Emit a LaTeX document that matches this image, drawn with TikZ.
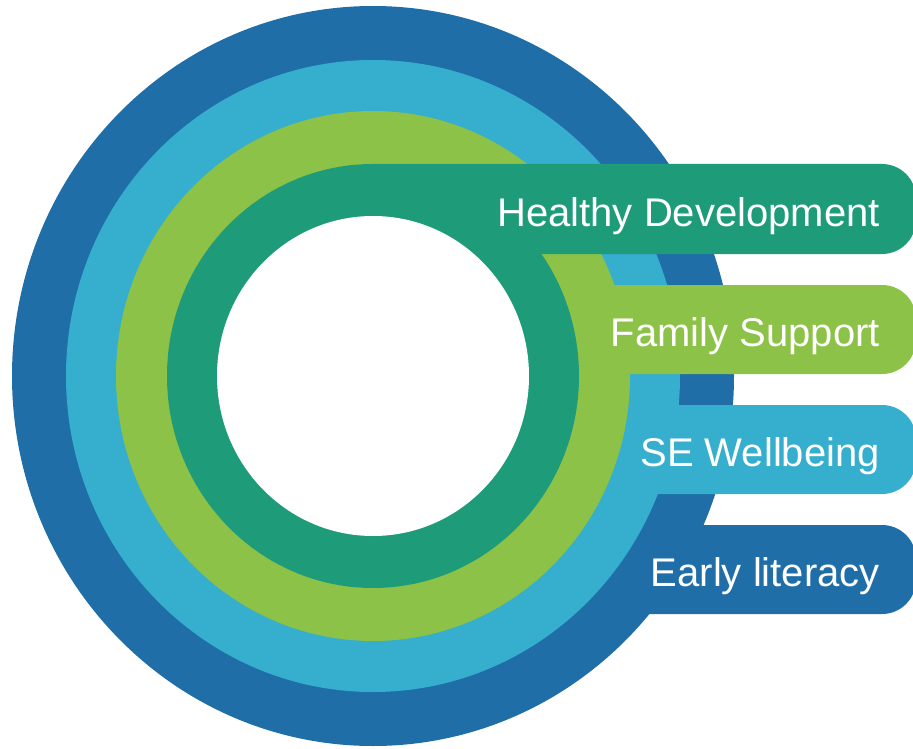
\documentclass[tikz,border=0pt]{standalone}
\usepackage{fontspec}
\setmainfont{Liberation Sans}
\definecolor{dblue}{RGB}{31,110,168}
\definecolor{lblue}{RGB}{54,174,206}
\definecolor{lgreen}{RGB}{139,194,71}
\definecolor{teal}{RGB}{30,155,120}
\begin{document}
\begin{tikzpicture}[x=1pt,y=-1pt,
  band/.style={fill=#1, rounded corners=34pt},
  ring/.style={fill=#1},
  lbl/.style={text=white, anchor=base east, inner sep=0pt, font=\fontsize{40}{48}\selectfont}]
\useasboundingbox (0,0) rectangle (913,749);
\coordinate (c) at (373,376);
% dark blue
\fill[ring=dblue] (c) ellipse [x radius=361, y radius=370];
\path[band=dblue] (373,525) -- (916,525) -- (916,614) -- (373,614) [sharp corners] -- cycle;
% light blue
\fill[ring=lblue] (c) ellipse [x radius=307, y radius=316];
\path[band=lblue] (373,405) -- (916,405) -- (916,494) -- (373,494) [sharp corners] -- cycle;
% green
\fill[ring=lgreen] (c) ellipse [x radius=257, y radius=265];
\path[band=lgreen] (373,285) -- (916,285) -- (916,374) -- (373,374) [sharp corners] -- cycle;
% teal
\fill[ring=teal] (c) ellipse [x radius=206, y radius=212];
\path[band=teal] (373,164) -- (916,164) -- (916,254) -- (373,254) [sharp corners] -- cycle;
% white centre
\fill[white] (c) ellipse [x radius=156, y radius=160];
% labels
\node[lbl] (hd) at (880,226) {Healthy Development};
\node[lbl] (fs) at (880,346) {Family Support};
\node[lbl] (se) at (880,466) {SE Wellbeing};
\node[lbl] (el) at (880,586) {Early literacy};
\end{tikzpicture}
\end{document}
